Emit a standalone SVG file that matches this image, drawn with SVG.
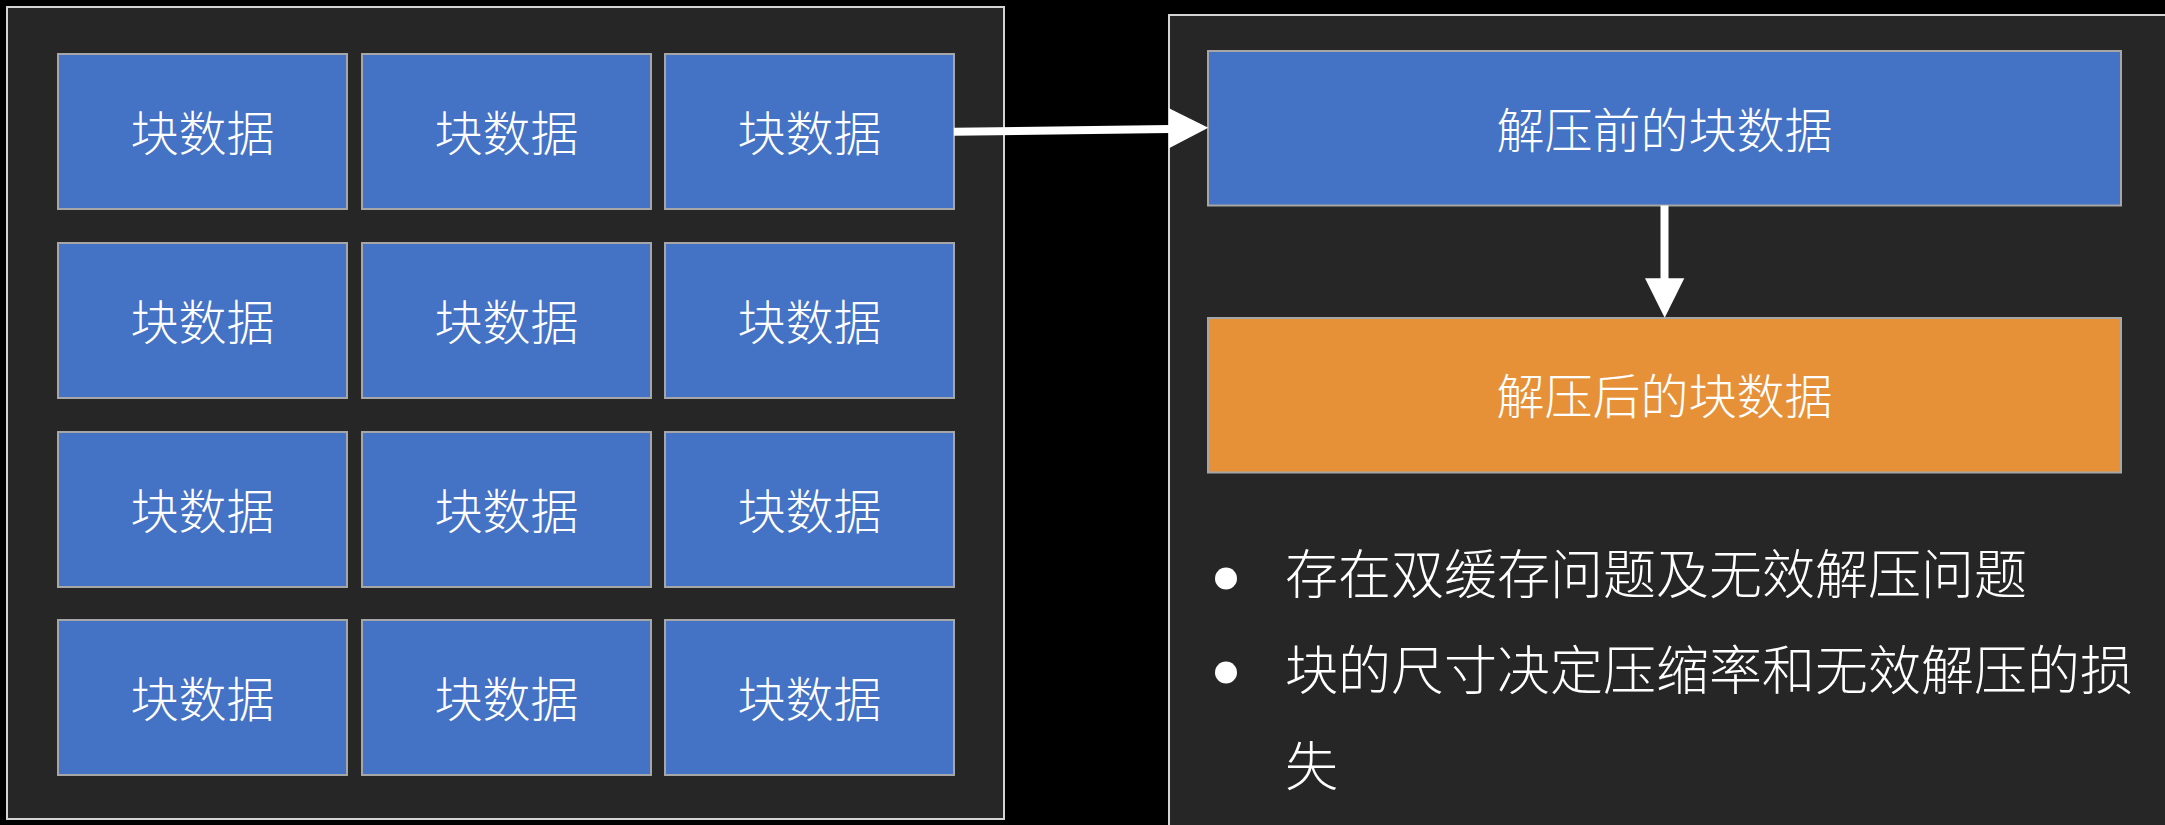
<svg xmlns="http://www.w3.org/2000/svg" width="2165" height="825" viewBox="0 0 2165 825">
<style>
.panel{fill:#262626;stroke:#d4d4d4;stroke-width:2}
.blk{fill:#4472C4;stroke:#a6a6a6;stroke-width:2}
.org{fill:#E69138;stroke:#a6a6a6;stroke-width:2}
.t{font-family:"Noto Sans CJK SC","Noto Sans CJK TC",sans-serif;font-size:48px;fill:#ffffff;text-anchor:middle;font-weight:300}
.b{font-family:"Noto Sans CJK SC","Noto Sans CJK TC",sans-serif;font-size:53px;fill:#ffffff;font-weight:300}
.conn{stroke:#ffffff;stroke-width:8;fill:none}
.head{fill:#ffffff}
</style>
<rect x="0" y="0" width="2165" height="825" fill="#000000"/>
<g id="left-panel">
<rect class="panel" x="7" y="7" width="997" height="812"/>
</g>
<g id="right-panel">
<rect class="panel" x="1169" y="15" width="1000" height="820"/>
</g>
<g id="block-r1c1"><rect class="blk" x="58" y="54" width="289" height="155"/><text class="t" x="202.5" y="151">块数据</text></g>
<g id="block-r1c2"><rect class="blk" x="362" y="54" width="289" height="155"/><text class="t" x="506.5" y="151">块数据</text></g>
<g id="block-r1c3"><rect class="blk" x="665" y="54" width="289" height="155"/><text class="t" x="809.5" y="151">块数据</text></g>
<g id="block-r2c1"><rect class="blk" x="58" y="243" width="289" height="155"/><text class="t" x="202.5" y="340">块数据</text></g>
<g id="block-r2c2"><rect class="blk" x="362" y="243" width="289" height="155"/><text class="t" x="506.5" y="340">块数据</text></g>
<g id="block-r2c3"><rect class="blk" x="665" y="243" width="289" height="155"/><text class="t" x="809.5" y="340">块数据</text></g>
<g id="block-r3c1"><rect class="blk" x="58" y="432" width="289" height="155"/><text class="t" x="202.5" y="529">块数据</text></g>
<g id="block-r3c2"><rect class="blk" x="362" y="432" width="289" height="155"/><text class="t" x="506.5" y="529">块数据</text></g>
<g id="block-r3c3"><rect class="blk" x="665" y="432" width="289" height="155"/><text class="t" x="809.5" y="529">块数据</text></g>
<g id="block-r4c1"><rect class="blk" x="58" y="620" width="289" height="155"/><text class="t" x="202.5" y="717">块数据</text></g>
<g id="block-r4c2"><rect class="blk" x="362" y="620" width="289" height="155"/><text class="t" x="506.5" y="717">块数据</text></g>
<g id="block-r4c3"><rect class="blk" x="665" y="620" width="289" height="155"/><text class="t" x="809.5" y="717">块数据</text></g>
<g id="before">
<rect class="blk" x="1208" y="51" width="913" height="154.5"/>
<text class="t" x="1664.5" y="148">解压前的块数据</text>
</g>
<g id="after">
<rect class="org" x="1208" y="318" width="913" height="154.5"/>
<text class="t" x="1664.5" y="414">解压后的块数据</text>
</g>
<g id="notes">
<circle cx="1226" cy="578.5" r="11" fill="#ffffff"/>
<text class="b" x="1285" y="594">存在双缓存问题及无效解压问题</text>
<circle cx="1226" cy="672.5" r="11" fill="#ffffff"/>
<text class="b" x="1285" y="690">块的尺寸决定压缩率和无效解压的损</text>
<text class="b" x="1285" y="786">失</text>
</g>
<g id="connectors">
<line class="conn" x1="954" y1="131.7" x2="1170" y2="129"/>
<polygon class="head" points="1169,108.3 1208.3,127.7 1169,148.3"/>
<line class="conn" x1="1664.5" y1="205.5" x2="1664.5" y2="280"/>
<polygon class="head" points="1645,278.3 1684.3,278.3 1664.7,317.7"/>
</g>
</svg>
